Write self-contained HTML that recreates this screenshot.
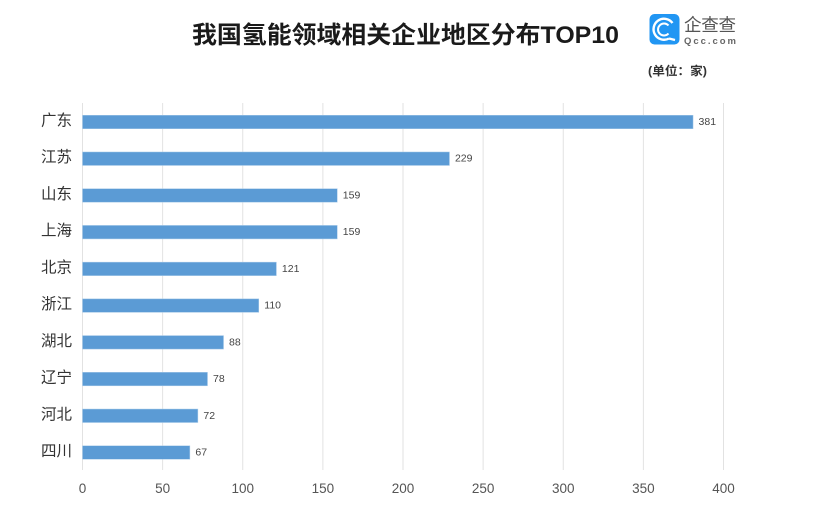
<!DOCTYPE html>
<html lang="zh">
<head>
<meta charset="utf-8">
<title>我国氢能领域相关企业地区分布TOP10</title>
<style>
html,body{margin:0;padding:0;background:#fff;}
#chart-root{position:relative;width:820px;height:508px;overflow:hidden;background:#fff;}
svg{display:block;position:absolute;left:0;top:0;}
text{font-family:"Liberation Sans","Noto Sans CJK SC",sans-serif;}
</style>
</head>
<body>
<div id="chart-root">
<svg id="chart" width="820" height="508" viewBox="0 0 820 508" xmlns="http://www.w3.org/2000/svg">
  <text x="192" y="43" font-size="24" font-weight="700" fill="#1a1a1a" textLength="427" lengthAdjust="spacingAndGlyphs">我国氢能领域相关企业地区分布TOP10</text>
  <g>
    <rect x="649.5" y="14" width="30" height="30.5" rx="5" fill="#2196f3"/>
    <path d="M 672.5 23 A 10.5 10.5 0 1 0 669 38.5" fill="none" stroke="#fff" stroke-width="2.4"/>
    <path d="M 668.5 25.5 A 6 6 0 1 0 668.5 33.5" fill="none" stroke="#fff" stroke-width="2"/>
    <line x1="669" y1="38.5" x2="675" y2="40" stroke="#fff" stroke-width="2.4"/>
    <text x="684" y="31" font-size="17.5" fill="#555" textLength="52">企查查</text>
    <text x="684" y="44" font-size="9.5" font-weight="700" fill="#666" textLength="52">Qcc.com</text>
  </g>
  <text x="648" y="75" font-size="12" font-weight="700" fill="#333" textLength="59" lengthAdjust="spacingAndGlyphs">(单位：家)</text>
  <g id="grid"></g>
  <g id="bars"></g>
  <g id="values"></g>
  <g id="cats"></g>
  <g id="ticks"></g>
</svg>
</div>
<script>
var categories = ['广东','江苏','山东','上海','北京','浙江','湖北','辽宁','河北','四川'];
var values = [381,229,159,159,121,110,88,78,72,67];
var tickLabels = [0,50,100,150,200,250,300,350,400];

var NS = 'http://www.w3.org/2000/svg';
function xScale(v){ return 82.5 + v * (723.5 - 82.5) / 400; }
function yScale(i){ return 122 + i * (452.5 - 122) / 9; }
function make(tag, attrs, text){
  var el = document.createElementNS(NS, tag);
  for (var k in attrs) el.setAttribute(k, attrs[k]);
  if (text !== undefined) el.textContent = text;
  return el;
}
var gridG = document.getElementById('grid');
var barsG = document.getElementById('bars');
var valuesG = document.getElementById('values');
var catsG = document.getElementById('cats');
var ticksG = document.getElementById('ticks');

tickLabels.forEach(function(t){
  var line = make('line', {x1:xScale(t), x2:xScale(t), y1:103, y2:470, stroke:'#e2e2e2', 'stroke-width':1});
  
  
  gridG.appendChild(line);
  var label = make('text', {x:xScale(t), y:493, 'font-size':13.5, fill:'#555', 'text-anchor':'middle'}, t);
  
  
  ticksG.appendChild(label);
});

categories.forEach(function(c, i){
  var cy = yScale(i);
  var bar = make('rect', {x:xScale(0), y:cy - 6.75, width:xScale(values[i]) - xScale(0), height:13.5, fill:'#5b9bd5', stroke:'#a9cbe9', 'stroke-width':0.5});
  
  
  barsG.appendChild(bar);
  var val = make('text', {x:xScale(values[i]) + 5.5, y:cy + 3, 'font-size':10.5, fill:'#444'}, values[i]);
  
  
  valuesG.appendChild(val);
  var cat = make('text', {x:72, y:cy + 3.5, 'font-size':15.5, fill:'#333', 'text-anchor':'end'}, c);
  
  
  catsG.appendChild(cat);
});
</script>
</body>
</html>
